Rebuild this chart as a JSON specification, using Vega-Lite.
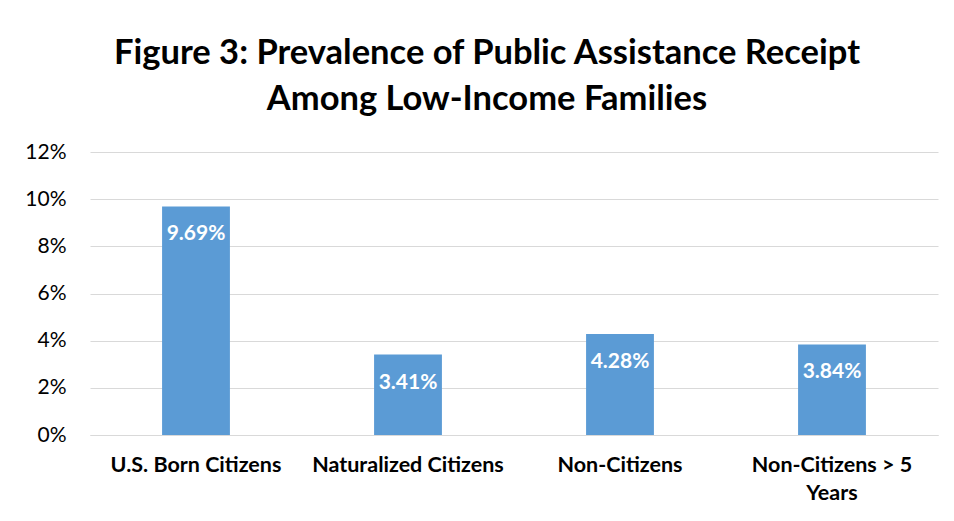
{
  "$schema": "https://vega.github.io/schema/vega-lite/v6.json",
  "autosize": "none",
  "padding": {"left": 90, "top": 152, "right": 16, "bottom": 86},
  "width": 848,
  "height": 283,
  "background": "white",
  "title": {
    "text": ["Figure 3: Prevalence of Public Assistance Receipt", "Among Low-Income Families"],
    "font": "Lato",
    "fontSize": 34.5,
    "fontWeight": "bold",
    "color": "#000000",
    "anchor": "middle",
    "dx": -27,
    "offset": 24,
    "lineHeight": 46
  },
  "data": {
    "values": [
      {"group": "U.S. Born Citizens", "value": 0.0969},
      {"group": "Naturalized Citizens", "value": 0.0341},
      {"group": "Non-Citizens", "value": 0.0428},
      {"group": "Non-Citizens > 5 Years", "value": 0.0384}
    ]
  },
  "encoding": {
    "x": {
      "field": "group",
      "type": "nominal",
      "sort": null,
      "title": null,
      "scale": {"paddingInner": 0.68, "paddingOuter": 0.34},
      "axis": {
        "labelAngle": 0,
        "labelFont": "Lato",
        "labelFontSize": 21.5,
        "labelFontWeight": "bold",
        "labelColor": "#000000",
        "labelPadding": 19,
        "labelLineHeight": 28,
        "labelLimit": 300,
        "ticks": false,
        "domainColor": "#d9d9d9",
        "domainWidth": 1,
        "labelExpr": "datum.value == 'Non-Citizens > 5 Years' ? ['Non-Citizens > 5', 'Years'] : datum.value"
      }
    }
  },
  "layer": [
    {
      "mark": {"type": "bar", "color": "#5B9BD5"},
      "encoding": {
        "y": {
          "field": "value",
          "type": "quantitative",
          "title": null,
          "scale": {"domain": [0, 0.12]},
          "axis": {
            "values": [0, 0.02, 0.04, 0.06, 0.08, 0.1, 0.12],
            "format": ".0%",
            "labelFont": "Lato",
            "labelFontSize": 21,
            "labelColor": "#000000",
            "labelPadding": 24,
            "ticks": false,
            "domain": false,
            "gridColor": "#d9d9d9",
            "gridWidth": 1
          }
        }
      }
    },
    {
      "mark": {"type": "text", "color": "white", "font": "Lato", "fontSize": 21, "fontWeight": "bold", "baseline": "middle", "dy": 28},
      "encoding": {
        "y": {"field": "value", "type": "quantitative"},
        "text": {"field": "value", "type": "quantitative", "format": ".2%"}
      }
    }
  ],
  "config": {"view": {"stroke": null}}
}
